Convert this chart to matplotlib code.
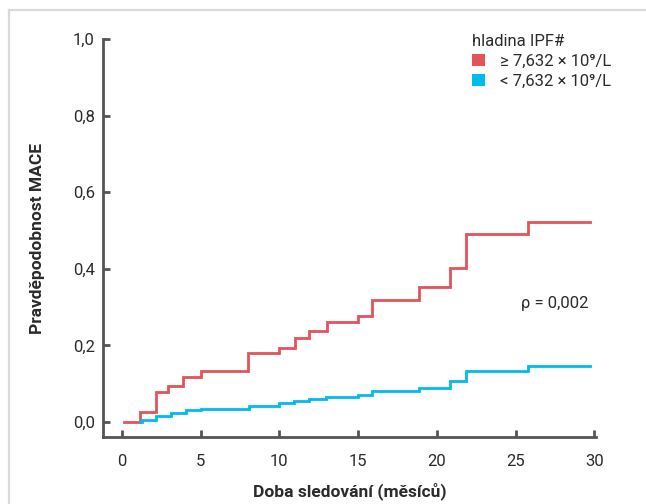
import matplotlib
matplotlib.use("Agg")
import matplotlib.pyplot as plt
from matplotlib.lines import Line2D
from matplotlib.patches import Patch

plt.rcParams['font.family'] = ['Roboto', 'DejaVu Sans']

# Data
red_t = [0.13, 1.15, 2.16, 2.95, 3.9, 5.0, 8.0, 10.0, 11.0, 11.9, 13.0, 15.0, 15.9, 18.85, 20.8, 21.87, 25.8, 29.7]
red_p = [0.0, 0.025, 0.077, 0.094, 0.117, 0.132, 0.181, 0.194, 0.219, 0.237, 0.261, 0.278, 0.319, 0.353, 0.403, 0.491, 0.521, 0.521]
blue_t = [1.15, 1.3, 2.16, 3.1, 4.07, 5.0, 8.1, 10.0, 10.9, 11.9, 12.97, 15.0, 15.9, 18.85, 20.8, 21.87, 25.8, 29.75]
blue_p = [0.0, 0.005, 0.016, 0.024, 0.030, 0.034, 0.042, 0.050, 0.055, 0.060, 0.065, 0.071, 0.081, 0.088, 0.106, 0.133, 0.147, 0.147]
x_ticks = [0, 5, 10, 15, 20, 25, 30]
y_ticks = [0.0, 0.2, 0.4, 0.6, 0.8, 1.0]
y_tick_labels = ['0,0', '0,2', '0,4', '0,6', '0,8', '1,0']
legend_title = 'hladina IPF#'
legend_labels = ['≥ 7,632 × 10⁹/L', '< 7,632 × 10⁹/L']
p_text = 'ρ = 0,002'

RED = '#E4525A'
BLUE = '#00BBEE'
AX = '#555555'
TXT = '#2b2b2b'

fig = plt.figure(figsize=(6.46, 5.04), dpi=100)
ax = fig.add_axes([103/646, 67/504, (596-103)/646, 398/504])

ax.step(red_t, red_p, where='post', color=RED, lw=2.0, solid_joinstyle='miter')
ax.step(blue_t, blue_p, where='post', color=BLUE, lw=2.0, solid_joinstyle='miter')

ax.set_xlim(-1.2, 30.1)
ax.set_ylim(-0.0392, 1.0)
ax.set_xticks(x_ticks)
ax.set_xticklabels([str(v) for v in x_ticks])
ax.set_yticks(y_ticks)
ax.set_yticklabels(y_tick_labels)

for s in ['top', 'right']:
    ax.spines[s].set_visible(False)
for s in ['left', 'bottom']:
    ax.spines[s].set_color(AX)
    ax.spines[s].set_linewidth(2.0)
ax.spines['left'].set_capstyle('projecting')
ax.tick_params(axis='both', direction='in', length=5, width=2.0, color=AX,
               labelsize=12, labelcolor=TXT)
ax.tick_params(axis='x', pad=12)
ax.tick_params(axis='y', pad=6)

ax.set_xlabel('Doba sledování (měsíců)', fontsize=12.5, fontweight='bold', color=TXT, labelpad=10)
ax.set_ylabel('Pravděpodobnost MACE', fontsize=12.5, fontweight='bold', color=TXT, labelpad=20)

ax.text(29.65, 0.31, p_text, ha='right', va='center', fontsize=12, color=TXT)

handles = [Patch(facecolor=RED, edgecolor='none'), Patch(facecolor=BLUE, edgecolor='none')]
leg = ax.legend(handles, legend_labels, title=legend_title, loc='upper left',
                bbox_to_anchor=(0.735, 1.03), frameon=False, fontsize=12,
                title_fontsize=12, handlelength=0.75, handleheight=0.75,
                handletextpad=0.9, labelspacing=0.3, borderaxespad=0)
leg._legend_box.align = 'left'
for t in leg.get_texts():
    t.set_color(TXT)
leg.get_title().set_color(TXT)

# light frame around the figure (left and top visible)
fig.add_artist(Line2D([9/646, 9/646], [0, 494/504], transform=fig.transFigure, color='#d9d9d9', lw=1.6))
fig.add_artist(Line2D([9/646, 1], [494/504, 494/504], transform=fig.transFigure, color='#d9d9d9', lw=1.6))

fig.savefig('out.png', dpi=100)
